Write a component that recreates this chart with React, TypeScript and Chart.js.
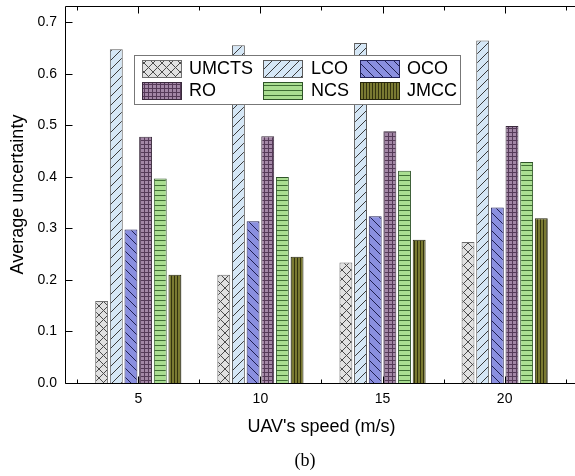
import React, { useEffect, useRef } from 'react';
import { Chart, registerables } from 'chart.js';

Chart.register(...registerables);

// ---- data ----
const speeds = [5, 10, 15, 20];
const seriesNames = ['UMCTS', 'LCO', 'OCO', 'RO', 'NCS', 'JMCC'];
const umcts = [0.159, 0.21, 0.234, 0.274];
const lco = [0.648, 0.656, 0.66, 0.665];
const oco = [0.298, 0.314, 0.324, 0.341];
const ro = [0.478, 0.479, 0.489, 0.499];
const ncs = [0.397, 0.4, 0.412, 0.429];
const jmcc = [0.21, 0.245, 0.278, 0.32];
const xTicks = [5, 10, 15, 20];
const xMinorTicks = [2.5, 7.5, 12.5, 17.5, 22.5];
const yTicks = [0, 0.1, 0.2, 0.3, 0.4, 0.5, 0.6, 0.7];
const xTitle = "UAV's speed (m/s)";
const yTitle = 'Average uncertainty';
const caption = '(b)';

const SANS = '"Liberation Sans", Arial, sans-serif';
const SERIF = '"Liberation Serif", "Times New Roman", serif';

type Kind = 'cross' | 'fwd' | 'back' | 'grid' | 'horiz' | 'vert';

const styles: { bg: string; fg: string; border: string; kind: Kind; size: number }[] = [
  { bg: '#e1e1e1', fg: '#4a4a4a', border: '#6e6e6e', kind: 'cross', size: 9 },
  { bg: '#d5e7f6', fg: '#3a3a3a', border: '#5a5a5a', kind: 'fwd', size: 9 },
  { bg: '#8a8fe0', fg: '#1e1e50', border: '#22225a', kind: 'back', size: 9 },
  { bg: '#a387a6', fg: '#553a58', border: '#3a2a3c', kind: 'grid', size: 4 },
  { bg: '#aade91', fg: '#3f6e34', border: '#2e5428', kind: 'horiz', size: 5 },
  { bg: '#7a7a32', fg: '#33330f', border: '#25250c', kind: 'vert', size: 3 },
];

function makePattern(ctx: CanvasRenderingContext2D, st: (typeof styles)[number]) {
  const s = st.size;
  const c = document.createElement('canvas');
  c.width = s;
  c.height = s;
  const g = c.getContext('2d')!;
  g.fillStyle = st.bg;
  g.fillRect(0, 0, s, s);
  g.strokeStyle = st.fg;
  g.fillStyle = st.fg;
  g.lineWidth = 1;
  g.beginPath();
  if (st.kind === 'cross' || st.kind === 'back') {
    g.moveTo(-1, -1);
    g.lineTo(s + 1, s + 1);
  }
  if (st.kind === 'cross' || st.kind === 'fwd') {
    g.moveTo(-1, s + 1);
    g.lineTo(s + 1, -1);
  }
  g.stroke();
  if (st.kind === 'grid') {
    g.fillRect(0, 0, s, 1);
    g.fillRect(0, 0, 1, s);
  }
  if (st.kind === 'horiz') g.fillRect(0, 0, s, 1);
  if (st.kind === 'vert') g.fillRect(0, 0, 1, s);
  return ctx.createPattern(c, 'repeat')!;
}

export default function App() {
  const ref = useRef<HTMLCanvasElement>(null);

  useEffect(() => {
    const canvas = ref.current!;
    const ctx = canvas.getContext('2d')!;
    const patterns = styles.map((st) => makePattern(ctx, st));
    const series = [umcts, lco, oco, ro, ncs, jmcc];

    const datasets = series.map((vals, i) => ({
      label: seriesNames[i],
      data: speeds.map((x, j) => ({ x, y: vals[j] })),
      backgroundColor: patterns[i],
      borderColor: styles[i].border,
      borderWidth: 1,
      categoryPercentage: 0.72,
      barPercentage: 0.88,
    }));

    const framePlugin = {
      id: 'frame',
      afterDatasetsDraw(chart: any) {
        const { left, right, top, bottom } = chart.chartArea;
        const xs = chart.scales.x;
        const ys = chart.scales.y;
        const c = chart.ctx;
        c.save();
        c.strokeStyle = '#000';
        c.lineWidth = 1;
        c.beginPath();
        const L = Math.round(left) + 0.5;
        const B = Math.round(bottom) + 0.5;
        const T = Math.round(top) + 0.5;
        c.moveTo(L, T);
        c.lineTo(L, B);
        c.moveTo(L, B);
        c.lineTo(right + 2, B);
        c.moveTo(L, T);
        c.lineTo(right + 2, T);
        yTicks.forEach((v) => {
          const y = Math.round(ys.getPixelForValue(v)) + 0.5;
          c.moveTo(L, y);
          c.lineTo(L + 7, y);
        });
        xTicks.forEach((v) => {
          const x = Math.round(xs.getPixelForValue(v)) + 0.5;
          c.moveTo(x, B);
          c.lineTo(x, B - 7);
          c.moveTo(x, T);
          c.lineTo(x, T + 7);
        });
        xMinorTicks.forEach((v) => {
          const x = Math.round(xs.getPixelForValue(v)) + 0.5;
          c.moveTo(x, B);
          c.lineTo(x, B - 4);
          c.moveTo(x, T);
          c.lineTo(x, T + 4);
        });
        c.stroke();
        c.restore();
      },
    };

    const legendPlugin = {
      id: 'boxLegend',
      afterDraw(chart: any) {
        const c = chart.ctx;
        c.save();
        c.fillStyle = '#fff';
        c.fillRect(134, 55, 326, 49);
        c.strokeStyle = '#777';
        c.lineWidth = 1;
        c.strokeRect(134.5, 55.5, 326, 49);
        const swX = [142, 263, 360];
        const txX = [189, 311, 407];
        const rowY = [60, 82];
        const swW = 40;
        const swH = 18;
        c.font = `18px ${SANS}`;
        c.textBaseline = 'middle';
        c.textAlign = 'left';
        seriesNames.forEach((name, i) => {
          const col = i % 3;
          const row = Math.floor(i / 3);
          const x = swX[col];
          const y = rowY[row];
          c.fillStyle = patterns[i];
          c.fillRect(x, y, swW, swH);
          c.strokeStyle = styles[i].border;
          c.strokeRect(x + 0.5, y + 0.5, swW - 1, swH - 1);
          c.fillStyle = '#000';
          c.fillText(name, txX[col], y + swH / 2 + 0.5);
        });
        c.restore();
      },
    };

    const textPlugin = {
      id: 'texts',
      afterDraw(chart: any) {
        const { top, bottom } = chart.chartArea;
        const c = chart.ctx;
        c.save();
        c.fillStyle = '#000';
        c.textAlign = 'center';
        c.textBaseline = 'middle';
        c.font = `18px ${SANS}`;
        c.fillText(xTitle, 321.5, 427);
        c.font = `18px ${SERIF}`;
        c.fillText(caption, 305, 461);
        c.translate(18, (top + bottom) / 2);
        c.rotate(-Math.PI / 2);
        c.font = `18px ${SANS}`;
        c.fillText(yTitle, 0, 0);
        c.restore();
      },
    };

    const chart = new Chart(canvas, {
      type: 'bar',
      data: { datasets } as any,
      options: {
        animation: false,
        responsive: false,
        devicePixelRatio: 1,
        layout: { padding: { top: 6, right: 0, left: 0, bottom: 0 } },
        plugins: { legend: { display: false }, tooltip: { enabled: false } },
        scales: {
          x: {
            type: 'linear',
            min: 2,
            max: 22.88,
            offset: false,
            grid: { display: false, drawTicks: false },
            border: { display: false },
            afterBuildTicks: (a: any) => {
              a.ticks = xTicks.map((v) => ({ value: v }));
            },
            afterFit: (a: any) => {
              a.height = 93;
              a.paddingLeft = 0;
              a.paddingRight = 0;
            },
            ticks: {
              padding: 8,
              color: '#000',
              autoSkip: false,
              maxRotation: 0,
              font: { family: SANS, size: 14 },
            },
          },
          y: {
            min: 0,
            max: 0.732,
            grid: { display: false, drawTicks: false },
            border: { display: false },
            afterBuildTicks: (a: any) => {
              a.ticks = yTicks.map((v) => ({ value: v }));
            },
            afterFit: (a: any) => {
              a.width = 65;
              a.paddingTop = 0;
              a.paddingBottom = 0;
            },
            ticks: {
              padding: 8,
              color: '#000',
              autoSkip: false,
              font: { family: SANS, size: 14 },
              callback: (v: any) => Number(v).toFixed(1),
            },
          },
        },
      } as any,
      plugins: [framePlugin, legendPlugin, textPlugin],
    });
    return () => chart.destroy();
  }, []);

  return (
    <div
      style={{
        position: 'fixed',
        left: 0,
        top: 0,
        width: 575,
        height: 476,
        overflow: 'hidden',
        background: '#fff',
      }}
    >
      <canvas ref={ref} width={575} height={476} style={{ display: 'block', width: 575, height: 476 }} />
    </div>
  );
}
